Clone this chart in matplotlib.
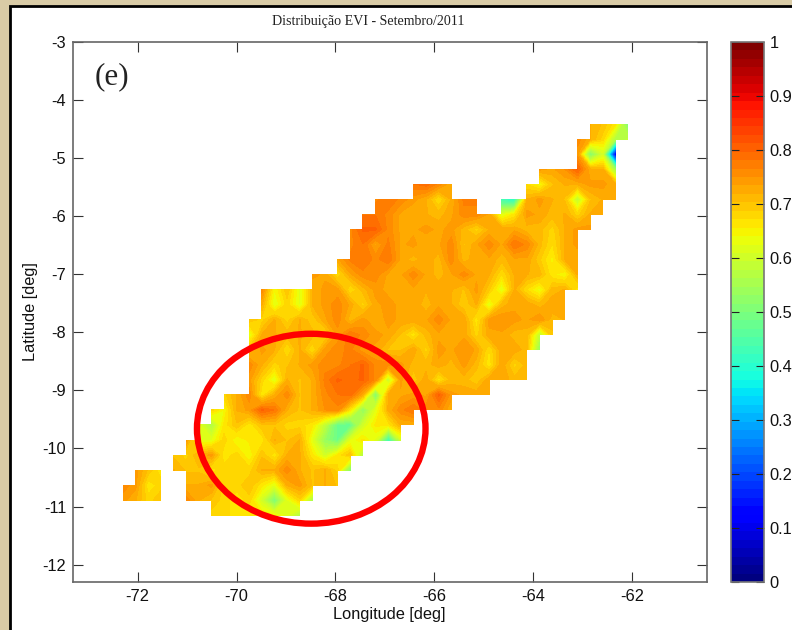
import numpy as np
import matplotlib
matplotlib.use("Agg")
import matplotlib.pyplot as plt
from matplotlib.patches import Ellipse, Rectangle

W, H = 792, 630

title_text = "Distribuição EVI - Setembro/2011"
x_label = "Longitude [deg]"
y_label = "Latitude [deg]"
panel_tag = "(e)"
x_ticks = [-72, -70, -68, -66, -64, -62]
y_ticks = [-3, -4, -5, -6, -7, -8, -9, -10, -11, -12]
cbar_ticks = [0, 0.1, 0.2, 0.3, 0.4, 0.5, 0.6, 0.7, 0.8, 0.9, 1]
cbar_labels = ["0", "0.1", "0.2", "0.3", "0.4", "0.5", "0.6", "0.7", "0.8", "0.9", "1"]

# grid of the EVI field: (first column, values x100) for each row, north to south
lon_start, lon_step, n_lon = -72.295, 0.2552, 41
lat_start, lat_step, n_lat = -4.414, -0.2591, 27

r00 = [(37, [72, 70, 66, 50])]
r01 = [(36, [76, 72, 68, 56, 58])]
r02 = [(36, [74, 50, 60, 10])]
r03 = [(33, [74, 73, 75, 80, 72, 72, 54])]
r04 = [(23, [78, 79, 76, 72]), (32, [67, 64, 70, 72, 72, 74, 74, 72])]
r05 = [(20, [76, 78, 76, 74, 72, 67, 72, 77, 77]), (30, [42, 40, 72, 74, 72, 70, 58, 70, 72, 72])]
r06 = [(19, [78, 78, 76, 73, 72, 72, 71, 73, 76, 76, 73, 62, 66, 74, 73, 71, 72, 68, 72, 72])]
r07 = [(18, [76, 80, 80, 76, 73, 73, 74, 73, 74, 71, 68, 72, 73, 73, 71, 71, 68, 72, 74, 74])]
r08 = [(18, [76, 78, 73, 77, 73, 74, 72, 73, 76, 70, 73, 76, 73, 78, 76, 71, 67, 72, 74])]
r09 = [(17, [73, 77, 78, 76, 78, 73, 71, 73, 71, 76, 71, 73, 73, 71, 73, 73, 69, 65, 72, 72])]
r10 = [(15, [74, 73, 67, 73, 76, 76, 73, 73, 76, 73, 71, 73, 76, 73, 72, 67, 72, 72, 71, 66, 64, 72])]
r11 = [(11, [76, 64, 70, 62, 72, 74, 74, 67, 71, 74, 73, 73, 73, 72, 73, 72, 70, 74, 69, 62, 72, 67, 63, 71, 72, 66])]
r12 = [(11, [72, 62, 68, 62, 72, 74, 76, 73, 68, 73, 74, 73, 73, 71, 73, 72, 69, 72, 62, 71, 73, 73, 71, 73, 73])]
r13 = [(10, [70, 68, 72, 68, 72, 69, 73, 76, 71, 74, 72, 74, 73, 73, 73, 76, 73, 73, 66, 74, 75, 74, 73, 75, 71, 72])]
r14 = [(10, [62, 72, 72, 71, 72, 71, 68, 74, 78, 76, 74, 73, 70, 66, 71, 73, 73, 73, 68, 73, 73, 71, 71, 58, 70])]
r15 = [(10, [70, 74, 72, 67, 72, 67, 74, 76, 77, 74, 73, 70, 70, 73, 68, 74, 73, 75, 73, 67, 73, 73, 71, 52])]
r16 = [(10, [76, 72, 68, 70, 72, 74, 76, 76, 78, 80, 76, 76, 74, 71, 71, 73, 71, 74, 71, 66, 73, 68, 71])]
r17 = [(10, [74, 68, 62, 72, 70, 72, 77, 80, 79, 80, 76, 58, 74, 69, 73, 66, 71, 71, 69, 73, 73, 71, 71])]
r18 = [(8, [68, 72, 76, 66, 72, 76, 70, 72, 76, 78, 79, 72, 50, 72, 73, 74, 73, 80, 74, 73, 73, 72])]
r19 = [(7, [68, 64, 72, 74, 80, 78, 72, 70, 72, 75, 76, 66, 52, 62, 72, 76, 78, 76, 76, 72])]
r20 = [(6, [62, 56, 66, 70, 66, 70, 70, 68, 68, 66, 58, 47, 47, 60, 66, 66, 72, 72])]
r21 = [(5, [74, 62, 62, 68, 64, 66, 66, 72, 70, 72, 62, 53, 48, 62, 66, 62, 42, 60])]
r22 = [(4, [70, 68, 72, 74, 66, 68, 64, 70, 66, 72, 72, 66, 60, 66, 70, 56])]
r23 = [(1, [74, 70, 66, 72, 70, 70, 66, 68, 68, 68, 72, 72, 76, 72, 70, 72, 68, 50])]
r24 = [(0, [76, 74, 66, 68]), (5, [72, 72, 74, 68, 68, 70, 66, 62, 72, 74, 70, 72, 70])]
r25 = [(0, [74, 72, 68, 70]), (5, [76, 72, 70, 68, 66, 68, 60, 50, 62, 68, 55])]
r26 = [(7, [68, 68, 66, 66, 66, 64, 62, 56])]
evi_rows = [r00, r01, r02, r03, r04, r05, r06, r07, r08, r09, r10, r11, r12, r13,
            r14, r15, r16, r17, r18, r19, r20, r21, r22, r23, r24, r25, r26]

grid = np.full((n_lat, n_lon), np.nan)
for i, row in enumerate(evi_rows):
    for start, vals in row:
        grid[i, start:start + len(vals)] = np.array(vals) / 100.0
grid = np.ma.masked_invalid(grid)
lons = lon_start + lon_step * np.arange(n_lon)
lats = lat_start + lat_step * np.arange(n_lat)

plt.rcParams["font.family"] = ["Liberation Sans", "DejaVu Sans"]
fig = plt.figure(figsize=(W / 100, H / 100), dpi=100, facecolor="#d9cba6")
fig.add_artist(Rectangle((10 / W, -0.05), 1.0, 1 - 6 / H + 0.05, transform=fig.transFigure,
                         facecolor="white", edgecolor="black", linewidth=2.0, zorder=-5))


def box(l, t, r, b):
    return [l / W, 1 - b / H, (r - l) / W, (b - t) / H]


ax = fig.add_axes(box(73.3, 42, 706.5, 582))
levels = np.linspace(0, 1, 65)
cs = ax.contourf(lons, lats, grid, levels=levels, cmap=plt.get_cmap("jet", 64),
                 corner_mask=False, vmin=0, vmax=1)
ax.set_xlim(-73.3, -60.5)
ax.set_ylim(-12.3, -3)
ax.set_xticks(x_ticks)
ax.set_yticks(y_ticks)
ax.tick_params(direction="in", length=7, width=0.8, color="#333333", top=True, right=True,
               labelsize=11.8, pad=5, labelcolor="#111111")
ax.set_xticklabels([str(v) for v in x_ticks])
ax.set_yticklabels([str(v) for v in y_ticks])
for s in ax.spines.values():
    s.set_color("#666666")
    s.set_linewidth(1.2)

ax.add_patch(Ellipse((-68.49, -9.66), 4.62, 3.27, fill=False, edgecolor="#ff0000", linewidth=4.6, zorder=5))
ax.text(-72.87, -3.6, panel_tag, family="Liberation Serif", fontsize=22.4, color="#222222",
        ha="left", va="center")

fig.text(368 / W, 1 - 22 / H, title_text, family="Liberation Serif", fontsize=10.1,
         ha="center", va="center", color="#222222")
fig.text(389 / W, 1 - 615 / H, x_label, fontsize=11.8, ha="center", va="center", color="#111111")
fig.text(30 / W, 1 - 312 / H, y_label, fontsize=11.8, rotation=90, ha="center", va="center", color="#111111")

cax = fig.add_axes(box(731, 42, 764, 582))
cb = fig.colorbar(cs, cax=cax)
cb.set_ticks(cbar_ticks)
cb.set_ticklabels(cbar_labels)
cax.tick_params(direction="in", length=6, width=0.8, color="#222222", left=True, right=True,
                labelsize=11.8, pad=4, labelcolor="#111111")
cb.outline.set_edgecolor("#777777")
cb.outline.set_linewidth(1.2)

fig.savefig("out.png", dpi=100, facecolor=fig.get_facecolor())
